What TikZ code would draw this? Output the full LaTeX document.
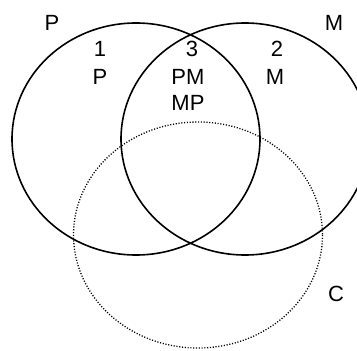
\documentclass[tikz,border=0pt]{standalone}
\usepackage{fontspec}
\setmainfont{Liberation Sans}
\begin{document}
\begin{tikzpicture}[x=1pt,y=-1pt,
  setline/.style={line width=1.6pt,black},
  dotline/.style={line width=1.3pt,black,dash pattern=on 1.1pt off 1.7pt},
  lbl/.style={font=\fontsize{22}{26}\selectfont,inner sep=0pt,anchor=center}]
\useasboundingbox (0,0) rectangle (357,351);
\coordinate (cP) at (136,139);
\coordinate (cM) at (245,139);
\coordinate (cC) at (198,235);
\draw[setline] (cP) ellipse [x radius=124, y radius=116];
\draw[setline] (cM) ellipse [x radius=124, y radius=116];
\draw[dotline] (cC) ellipse [x radius=124.5, y radius=113];
\node[lbl] (tP) at (52,23) {P};
\node[lbl] (tM) at (334,23) {M};
\node[lbl] (tC) at (336,294) {C};
\node[lbl] (n1) at (100,49) {1};
\node[lbl] (p1) at (100,77) {P};
\node[lbl] (n3) at (192,49) {3};
\node[lbl] (pm) at (188,77) {PM};
\node[lbl] (mp) at (188,103) {MP};
\node[lbl] (n2) at (277,49) {2};
\node[lbl] (m2) at (275,77) {M};
\end{tikzpicture}
\end{document}
